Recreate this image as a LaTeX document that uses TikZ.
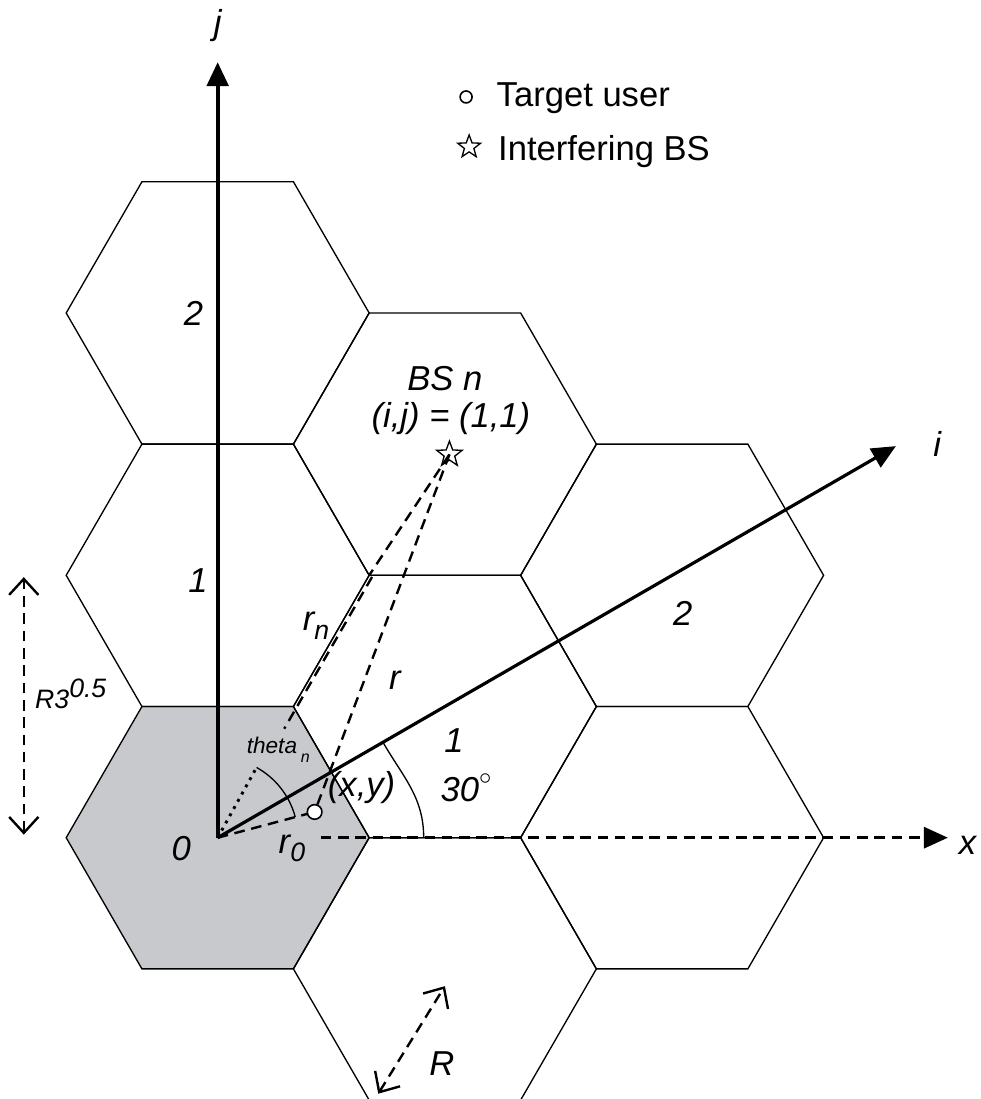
\documentclass[tikz,border=0pt]{standalone}
\usepackage{fontspec}
\setmainfont{Liberation Sans}
\usetikzlibrary{arrows.meta,shapes.geometric}
\definecolor{cellgray}{RGB}{200,201,204}
\begin{document}
\begin{tikzpicture} [x = 2cm, y = 2cm,
	hexcell/.style = {draw = black, line width = 0.5pt},
	lbl/.style = {font = \fontsize{13}{15}\selectfont\itshape},
	dashline/.style = {line width = 0.9pt, dash pattern = on 4pt off 2.5pt},
	bstar/.style = {star, star points = 5, star point ratio = 2.4, draw, fill = white, inner sep = 0pt, minimum size = 10pt, line width = 0.5pt},
	ucirc/.style = {circle, draw, fill = white, inner sep = 0pt, line width = 0.6pt},
	barb/.style = {{Straight Barb[length = 6pt, width = 11pt, line width = 0.9pt]}-{Straight Barb[length = 6pt, width = 11pt, line width = 0.9pt]}}]
	\useasboundingbox (-1.437,-1.725) rectangle (5.039,5.53);
	\clip (-1.437,-1.725) rectangle (5.039,5.53);
	\fill [cellgray] (0:1) -- (60:1) -- (120:1) -- (180:1) -- (240:1) -- (300:1) -- cycle;
	\foreach \cx/\cy in {0/0, 0/1.732, 0/3.464, 1.5/0.866, 1.5/2.598, 3/1.732, 3/0, 1.5/-0.866}
		\draw [hexcell, shift = {(\cx,\cy)}] (0:1) -- (60:1) -- (120:1) -- (180:1) -- (240:1) -- (300:1) -- cycle;
	\coordinate (O) at (0,0);
	\coordinate (V) at (1,1.732);
	\coordinate (U) at (0.64,0.17);
	\node [bstar] (BS) at (1.53,2.53) {};
	%\draw [dashed] (O) -- (BS);
	\draw [dashline] (BS.center) -- (V);
	\draw [dashline, transform canvas = {shift = {(1.1pt,-0.6pt)}}] (V) -- (0.42,0.73);
	\draw [dotted, line width = 1.1pt] (O) -- (61:0.53);
	\draw [line width = 0.5pt] (61:0.53) arc [start angle = 61, end angle = 15, radius = 0.53];
	\draw [dashline] (BS.center) -- (U);
	\draw [dashline] (O) -- (U);
	\node [ucirc, minimum size = 5.5pt] (user) at (U) {};
	\draw [line width = 1.6pt, -{Triangle[length = 9pt, width = 8pt]}] (O) -- (0,5.12);
	\draw [line width = 1.2pt, -{Triangle[length = 9pt, width = 8pt]}] (O) -- (30:5.17);
	\draw [dashline, -{Triangle[length = 9pt, width = 8pt]}] (0.68,0) -- (4.82,0);
	\draw [line width = 0.5pt] (1.36,0) to [out = 90, in = -60] (30:1.26);
	\draw [dashline, barb] (-1.28,0.02) -- (-1.28,1.72);
	\draw [dashline, barb] (1.06,-1.69) -- (1.5,-0.98);
	\node [lbl] (lj) at (0,5.36) {j};
	\node [lbl] (li) at (4.75,2.60) {i};
	\node [lbl] (lx) at (4.95,-0.05) {x};
	\node [lbl] (l0) at (-0.24,-0.07) {0};
	\node [lbl] (lj1) at (-0.13,1.70) {1};
	\node [lbl] (lj2) at (-0.16,3.46) {2};
	\node [lbl] (li1) at (1.56,0.64) {1};
	\node [lbl] (li2) at (3.07,1.48) {2};
	\node [lbl] (lbs) at (1.50,3.03) {BS n};
	\node [lbl] (lij) at (1.54,2.77) {(i,j) = (1,1)};
	\node [lbl] (lrn) at (0.65,1.40) {r\raisebox{-0.45ex}{\fontsize{10}{12}\selectfont n}};
	\node [lbl] (lr) at (1.17,1.04) {r};
	\node [lbl] (lr0) at (0.49,-0.07) {r\raisebox{-0.45ex}{\fontsize{10}{12}\selectfont 0}};
	\node [lbl, font = \fontsize{8.5}{10}\selectfont\itshape] (lth) at (0.40,0.58) {theta\,\raisebox{-0.8ex}{\fontsize{6}{7}\selectfont n}};
	\node [lbl] (lxy) at (0.95,0.33) {(x,y)};
	\node [lbl] (l30) at (1.64,0.33) {30\raisebox{0.9ex}{\fontsize{9}{9}\selectfont$\circ$}};
	\node [lbl, font = \fontsize{10}{12}\selectfont\itshape] (lr3) at (-0.97,0.95) {R3\raisebox{0.8ex}{0.5}};
	\node [lbl] (lR) at (1.48,-1.49) {R};
	\node [ucirc, minimum size = 4.5pt] (legu) at (1.64,4.89) {};
	\node [bstar, minimum size = 9pt] (legbs) at (1.66,4.56) {};
	\node [anchor = west, font = \fontsize{13}{15}\selectfont] (ltu) at (1.78,4.88) {Target user};
	\node [anchor = west, font = \fontsize{13}{15}\selectfont] (lib) at (1.79,4.53) {Interfering BS};
\end{tikzpicture}
\end{document}
